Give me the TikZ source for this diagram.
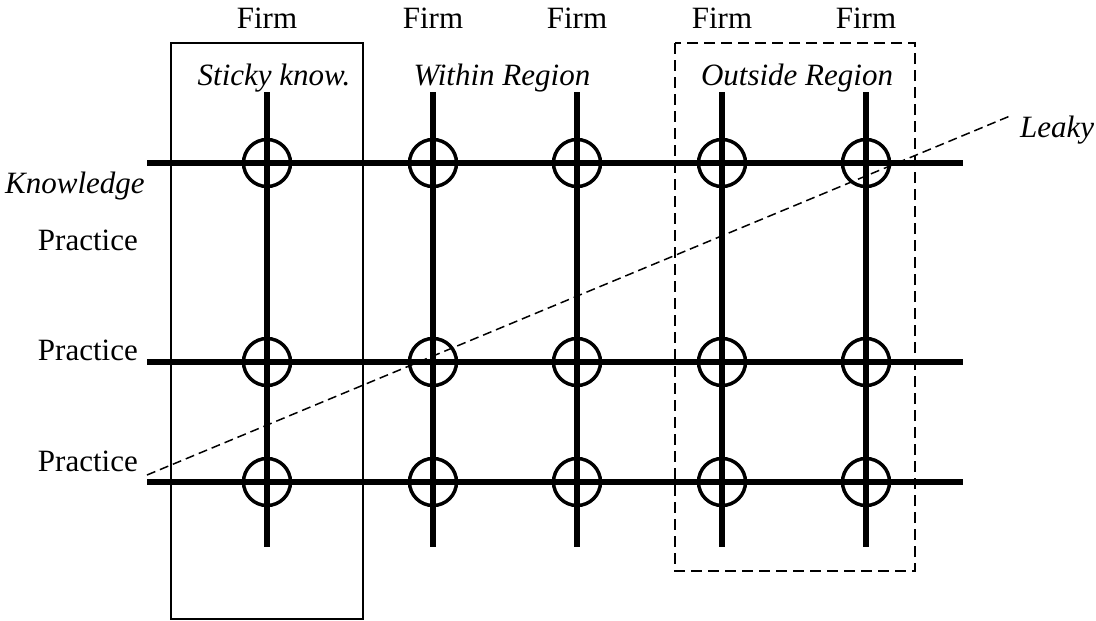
\documentclass[tikz,border=0pt]{standalone}
\usepackage{fontspec}
\setmainfont{Liberation Serif}
\usetikzlibrary{calc}

\tikzset{
  lbl/.style={inner sep=0pt,font=\fontsize{31}{37}\selectfont},
  ilbl/.style={lbl,font=\fontsize{31}{37}\selectfont\itshape},
  grid/.style={line width=5.5pt},
  hub/.style={draw,circle,line width=3.5pt,inner sep=0pt,minimum size=47pt},
  region/.style={line width=2pt},
  leak/.style={line width=1.5pt,dash pattern=on 9pt off 5pt}
}

\begin{document}
\begin{tikzpicture}[x=1pt,y=-1pt]
    \useasboundingbox (0,0) rectangle (1096,621);

    % Regions
    \draw[region] (171,43) rectangle (363,619);
    \draw[region,dash pattern=on 11pt off 6pt] (675,43) rectangle (915,571);

    % Firms (columns)
    \foreach \n/\x in {1/267,2/433,3/577,4/722,5/866} {
        \coordinate (top\n) at (\x,92);
        \coordinate (bot\n) at (\x,547);
        \node[lbl,anchor=base] (firm\n) at (\x,28) {Firm};
        \draw[grid] (top\n) -- (bot\n);
    }

    % Practices (rows)
    \foreach \m/\y in {1/163,2/362,3/482} {
        \coordinate (left\m) at (147,\y);
        \coordinate (right\m) at (963,\y);
        \draw[grid] (left\m) -- (right\m);
    }

    % Crossings
    \foreach \n in {1,...,5}
        \foreach \m in {1,2,3}
            \node[hub] (hub\n\m) at (top\n |- left\m) {};

    % Labels
    \node[ilbl,anchor=base] (sticky) at (274,85) {Sticky know.};
    \node[ilbl,anchor=base] (within) at (502,85) {Within Region};
    \node[ilbl,anchor=base] (outside) at (797,85) {Outside Region};
    \node[ilbl,anchor=base west] (know) at (5,193) {Knowledge};
    \node[lbl,anchor=base east] (prac1) at (138,250) {Practice};
    \node[lbl,anchor=base east] (prac2) at (138,360) {Practice};
    \node[lbl,anchor=base east] (prac3) at (138,471) {Practice};
    \node[ilbl,anchor=base west] (leaky) at (1020,137) {Leaky};

    % Leaky knowledge
    \coordinate (leakfrom) at (147,475);
    \coordinate (leakto) at (1010,116);
    \draw[leak] (leakfrom) -- (leakto);
\end{tikzpicture}
\end{document}
